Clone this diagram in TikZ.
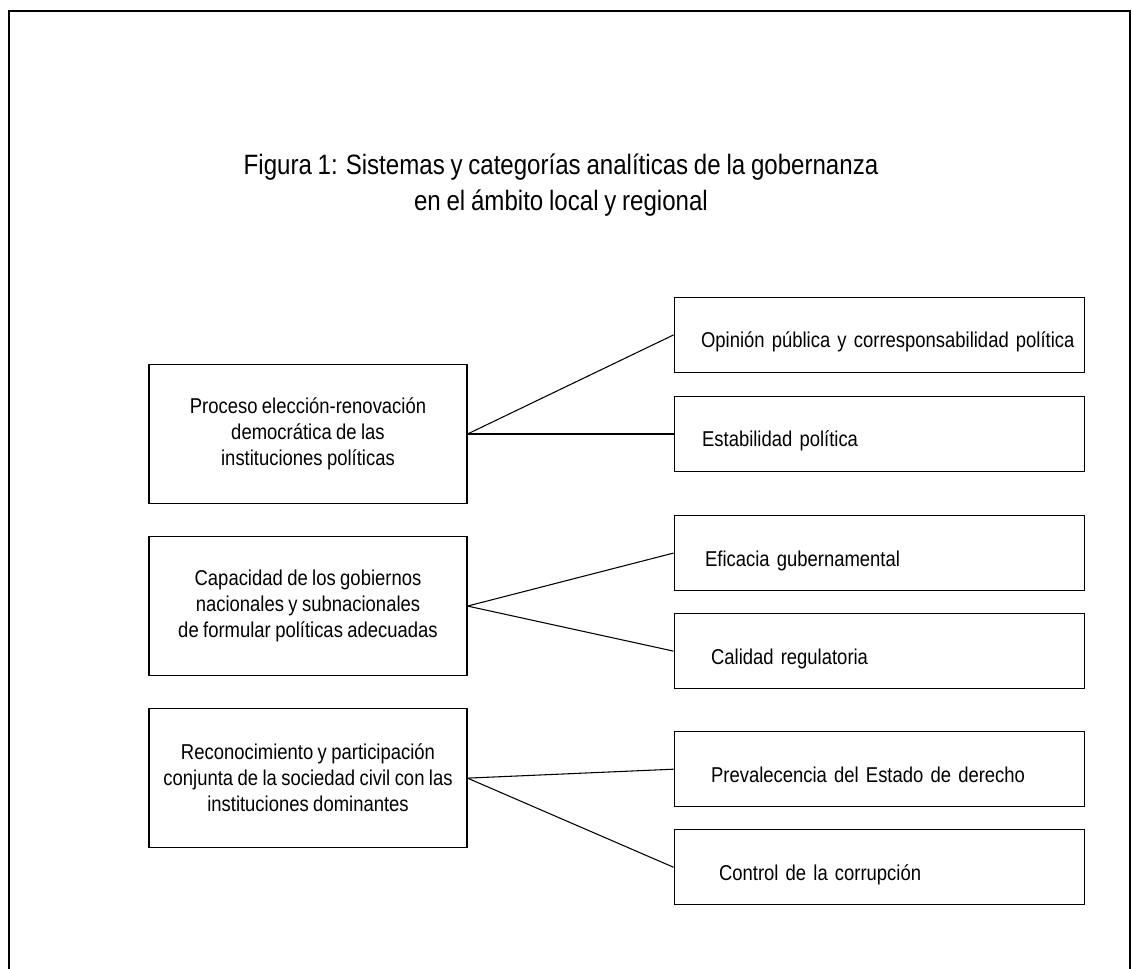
\documentclass[tikz,border=0pt]{standalone}
\usepackage{fontspec}
\setmainfont{Liberation Sans}[FakeStretch=0.86, WordSpace=0.86]
\usetikzlibrary{positioning}

\begin{document}
\begin{tikzpicture}[x=0.75pt, y=-0.75pt, line width=0.8pt,
  every node/.style={font=\fontsize{16.1pt}{19.5pt}\selectfont},
  leftbox/.style={draw, align=center, minimum width=238.5pt, minimum height=104.25pt},
  rightbox/.style={draw, inner xsep=0pt, inner ysep=0pt, text width=307.5pt, align=left,
    minimum height=56.25pt, text height=19.5pt, text depth=0pt}]
  \useasboundingbox (0,0) rectangle (1132,969);
  \draw[line width=1.9pt] (9,980) -- (9,11) -- (1130,11) -- (1130,980);

  \node[font=\fontsize{21pt}{27pt}\selectfont, align=center] (titulo) at (561,185)
    {Figura 1: Sistemas y categorías analíticas de la gobernanza\\en el ámbito local y regional};

  % categorias
  \node[leftbox] (proceso) at (308,434) {Proceso elección-renovación\\democrática de las\\instituciones políticas};
  \node[leftbox, below=24pt of proceso] (capacidad) {Capacidad de los gobiernos\\nacionales y subnacionales\\de formular políticas adecuadas};
  \node[leftbox, below=24pt of capacidad] (reconoc) {Reconocimiento y participación\\conjunta de la sociedad civil con las\\instituciones dominantes};

  % indicadores
  \node[rightbox, right=154.5pt of proceso] (estabilidad) {\hspace*{21pt}Estabilidad política};
  \node[rightbox, above=17.25pt of estabilidad] (opinion) {\hspace*{20.25pt}Opinión pública y corresponsabilidad política};
  \node[rightbox, below=32.25pt of estabilidad] (eficacia) {\hspace*{23.25pt}Eficacia gubernamental};
  \node[rightbox, below=16.5pt of eficacia] (calidad) {\hspace*{27.75pt}Calidad regulatoria};
  \node[rightbox, below=31.5pt of calidad] (prevalencia) {\hspace*{27.75pt}Prevalecencia del Estado de derecho};
  \node[rightbox, below=16.5pt of prevalencia] (control) {\hspace*{33.75pt}Control de la corrupción};

  \draw (proceso.east) -- (opinion.west);
  \draw (proceso.east) -- (estabilidad.west);
  \draw (capacidad.east) -- (eficacia.west);
  \draw (capacidad.east) -- (calidad.west);
  \draw (reconoc.east) -- (prevalencia.west);
  \draw (reconoc.east) -- (control.west);
\end{tikzpicture}
\end{document}
